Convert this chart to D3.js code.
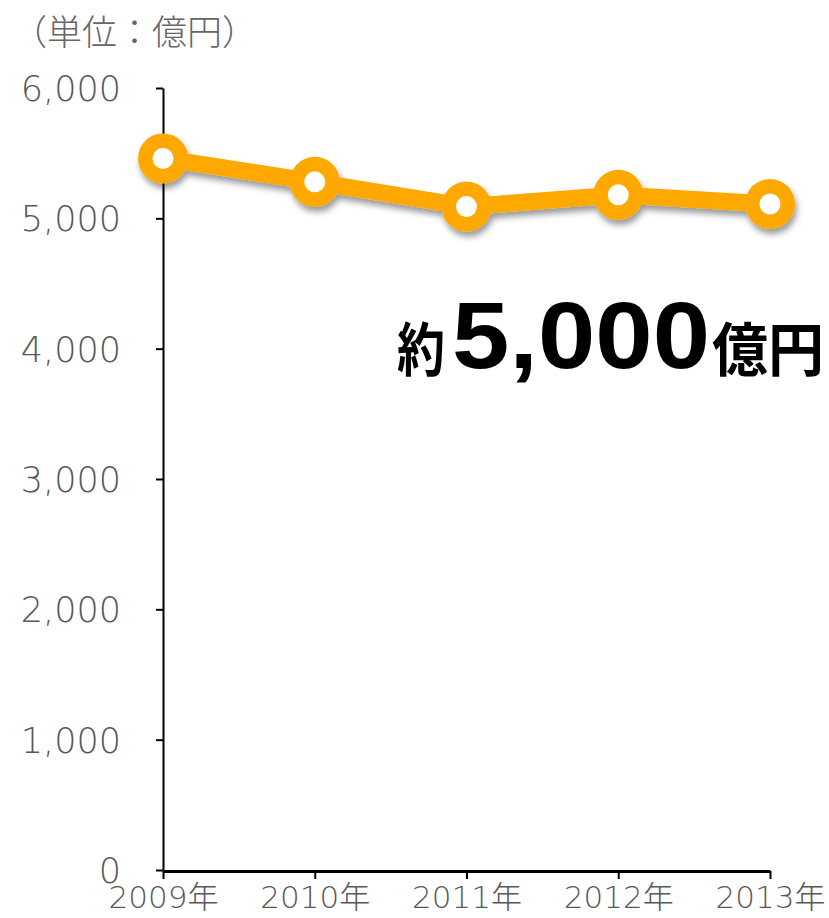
<!DOCTYPE html>
<meta charset="utf-8">
<style>
body { margin: 0; background: #fff; }
text { font-family: "DejaVu Sans", "Noto Sans CJK JP", sans-serif; }
.tick text { fill: #585858; font-weight: 200; }
.axis path, .axis line { stroke: #000; }
</style>
<svg width="829" height="918"></svg>
<script src="https://d3js.org/d3.v7.min.js"></script>
<script>

var years = ["2009年", "2010年", "2011年", "2012年", "2013年"];
var values = [5460, 5280, 5090, 5180, 5110];
var yTicks = [0, 1000, 2000, 3000, 4000, 5000, 6000];

var svg = d3.select("svg");

var x = d3.scalePoint().domain(years).range([163, 770]);
var y = d3.scaleLinear().domain([0, 6000]).range([870, 88]);

var defs = svg.append("defs");
var f = defs.append("filter").attr("id", "shadow")
    .attr("x", "-20%").attr("y", "-50%").attr("width", "140%").attr("height", "250%");
f.append("feDropShadow")
    .attr("dx", 2).attr("dy", 5).attr("stdDeviation", 3)
    .attr("flood-color", "#000").attr("flood-opacity", 0.4);

// unit label
svg.append("text")
    .attr("x", 12).attr("y", 45)
    .style("font-family", "'Noto Sans CJK JP', sans-serif")
    .style("font-size", "35px")
    .style("font-weight", 300)
    .style("fill", "#666")
    .text("（単位：億円）");

// y axis
var yAxis = svg.append("g")
    .attr("class", "axis")
    .attr("transform", "translate(163,0)")
    .call(d3.axisLeft(y).tickValues(yTicks).tickSize(7).tickSizeOuter(0)
        .tickFormat(d3.format(",")));
yAxis.select(".domain").attr("stroke-width", 2);
yAxis.selectAll(".tick line").attr("stroke-width", 2);
yAxis.selectAll(".tick text")
    .attr("x", -42)
    .attr("dy", "0.36em")
    .style("font-size", "35px");

// x axis
var xAxis = svg.append("g")
    .attr("class", "axis")
    .attr("transform", "translate(0,871)")
    .call(d3.axisBottom(x).tickSize(8).tickSizeOuter(0));
xAxis.select(".domain").attr("stroke-width", 3);
xAxis.selectAll(".tick line").attr("stroke-width", 2);
xAxis.selectAll(".tick text")
    .attr("y", 14)
    .attr("dy", "0.75em")
    .style("font-size", "31px");

// line + markers
var pts = years.map(function(d, i) { return {year: d, value: values[i]}; });
var g = svg.append("g").attr("filter", "url(#shadow)");

g.append("path")
    .datum(pts)
    .attr("fill", "none")
    .attr("stroke", "#ffa800")
    .attr("stroke-width", 17)
    .attr("stroke-linejoin", "round")
    .attr("d", d3.line()
        .x(function(d) { return x(d.year); })
        .y(function(d) { return y(d.value); }));

g.selectAll(".dot")
    .data(pts)
  .enter().append("circle")
    .attr("cx", function(d) { return x(d.year); })
    .attr("cy", function(d) { return y(d.value); })
    .attr("r", 25)
    .attr("fill", "#ffa800");

svg.selectAll(".hole")
    .data(pts)
  .enter().append("circle")
    .attr("cx", function(d) { return x(d.year); })
    .attr("cy", function(d) { return y(d.value); })
    .attr("r", 10.5)
    .attr("fill", "#fff");

// callout
var callout = svg.append("g").style("font-weight", "bold").style("fill", "#000");
callout.append("text")
    .attr("x", 397).attr("y", 371)
    .attr("textLength", 48).attr("lengthAdjust", "spacingAndGlyphs")
    .style("font-family", "'Noto Sans CJK JP', sans-serif")
    .style("font-size", "58px")
    .text("約");
callout.append("text")
    .attr("x", 452).attr("y", 368)
    .attr("textLength", 258).attr("lengthAdjust", "spacingAndGlyphs")
    .style("font-family", "'Liberation Sans', sans-serif")
    .style("font-size", "95px")
    .text("5,000");
callout.append("text")
    .attr("x", 712).attr("y", 371)
    .attr("textLength", 112).attr("lengthAdjust", "spacingAndGlyphs")
    .style("font-family", "'Noto Sans CJK JP', sans-serif")
    .style("font-size", "58px")
    .text("億円");

</script>
